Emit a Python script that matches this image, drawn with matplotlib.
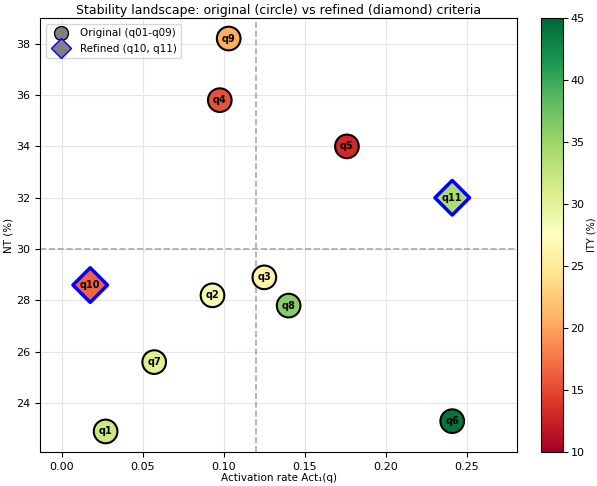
import matplotlib
matplotlib.use("Agg")
import matplotlib.pyplot as plt
import numpy as np

labels_orig = ["q1", "q2", "q3", "q4", "q5", "q6", "q7", "q8", "q9"]
act_orig = [0.027, 0.093, 0.125, 0.0975, 0.176, 0.241, 0.057, 0.140, 0.103]
nt_orig = [22.9, 28.2, 28.9, 35.8, 34.0, 23.3, 25.6, 27.8, 38.2]
ity_orig = [32.0, 28.5, 26.0, 15.5, 13.0, 44.0, 30.5, 36.0, 20.5]

labels_ref = ["q10", "q11"]
act_ref = [0.0175, 0.241]
nt_ref = [28.6, 32.0]
ity_ref = [16.5, 34.0]

act_thr = 0.12
nt_thr = 30

fig, ax = plt.subplots(figsize=(5.97, 4.86), dpi=100)
fig.subplots_adjust(left=0.067, right=0.866, top=0.963, bottom=0.07)

norm = matplotlib.colors.Normalize(vmin=10, vmax=45)
cmap = plt.get_cmap("RdYlGn")

ax.axvline(act_thr, color="#aaaaaa", ls="--", lw=1.2, zorder=1)
ax.axhline(nt_thr, color="#aaaaaa", ls="--", lw=1.2, zorder=1)

sc = ax.scatter(act_orig, nt_orig, c=ity_orig, cmap=cmap, norm=norm, s=290,
                marker="o", edgecolors="black", linewidths=1.5, zorder=3)
ax.scatter(act_ref, nt_ref, c=ity_ref, cmap=cmap, norm=norm, s=310,
           marker="D", edgecolors="blue", linewidths=2.5, zorder=3)
for x, y, l in zip(act_orig, nt_orig, labels_orig):
    ax.text(x, y, l, ha="center", va="center", fontsize=7, fontweight="bold", zorder=4)
for x, y, l in zip(act_ref, nt_ref, labels_ref):
    ax.text(x, y, l, ha="center", va="center", fontsize=7, fontweight="bold", zorder=4)

h1 = plt.Line2D([], [], marker="o", ls="", markersize=10, markerfacecolor="gray",
                markeredgecolor="black")
h2 = plt.Line2D([], [], marker="D", ls="", markersize=10, markerfacecolor="gray",
                markeredgecolor="blue")
ax.legend([h1, h2], ["Original (q01-q09)", "Refined (q10, q11)"], loc="upper left",
          fontsize=7.5, labelspacing=0.5, borderaxespad=0.6)

ax.set_xlim(-0.0135, 0.281)
ax.set_ylim(22.1, 39.0)
ax.grid(True, color="#e5e5e5", lw=0.8, zorder=0)
ax.set_axisbelow(True)
ax.tick_params(labelsize=8)
ax.set_xlabel("Activation rate Act\u2081(q)", fontsize=7.5, labelpad=1)
ax.set_ylabel("NT (%)", fontsize=7.5, labelpad=2)
ax.set_title("Stability landscape: original (circle) vs refined (diamond) criteria",
             fontsize=9, pad=3)

cax = fig.add_axes([0.906, 0.07, 0.037, 0.893])
cb = fig.colorbar(sc, cax=cax)
cb.ax.tick_params(labelsize=8, pad=2)
cb.set_label("ITY (%)", fontsize=7, labelpad=1)

fig.savefig("out.png", dpi=100)
